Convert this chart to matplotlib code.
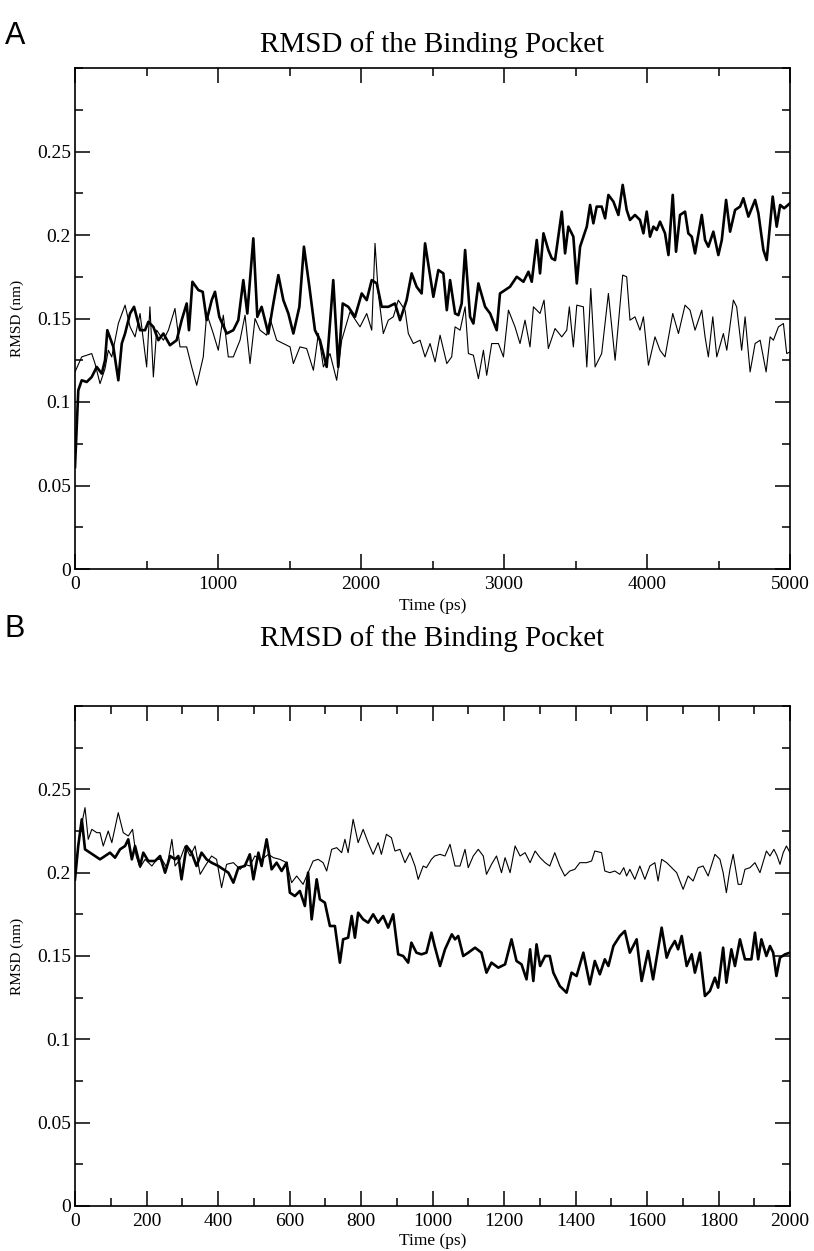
import matplotlib
matplotlib.use("Agg")
import matplotlib.pyplot as plt
from matplotlib.ticker import MultipleLocator, FuncFormatter

# ---------------- Data ----------------
# Panel A (0-5000 ps)
tA_thick = [0,23,47,82,117,152,187,210,226,268,303,327,350,385,413,455,490,513,548,583,
            618,664,711,746,781,797,821,863,893,921,956,979,1009,1061,1107,1142,1177,1205,1247,1275,
            1305,1352,1387,1422,1457,1492,1527,1569,1601,1639,1678,1713,1760,1806,1841,1872,1911,1958,2005,2040,
            2075,2110,2145,2191,2238,2273,2319,2354,2389,2424,
            2448,2506,2541,2576,2600,2623,2658,2681,2704,2728,2763,2786,2821,2868,2903,2949,2972,3007,3042,3089,
            3136,3171,3194,3229,3252,3276,3310,3334,3357,3404,3427,3450,3485,3509,3532,3579,3602,3625,3648,3683,
            3707,3730,3765,3800,3830,3858,3881,3916,3951,3975,3998,4021,4045,4068,4091,4126,4150,4180,4203,4231,
            4266,4289,4313,4336,4383,4406,4429,4464,4499,4523,4553,4581,4616,4651,4674,4709,4756,4779,4814,4837,
            4879,4907,4931,4959,5000]
vA_thick = [0.061,0.107,0.113,0.112,0.115,0.121,0.117,0.125,0.143,0.133,0.113,0.135,0.141,0.153,0.157,0.143,0.143,0.148,0.145,0.137,
            0.141,0.134,0.137,0.149,0.159,0.143,0.172,0.167,0.166,0.149,0.161,0.166,0.151,0.141,0.143,0.149,0.173,0.153,0.198,0.151,
            0.157,0.141,0.159,0.176,0.161,0.153,0.141,0.157,0.193,0.169,0.143,0.137,0.121,0.173,0.121,0.159,0.157,0.151,0.165,0.161,
            0.173,0.171,0.157,0.157,0.159,0.149,0.161,0.177,0.169,0.165,
            0.195,0.163,0.179,0.177,0.155,0.173,0.153,0.152,0.159,0.191,0.151,0.147,0.171,0.157,0.153,0.143,0.165,0.167,0.169,0.175,
            0.172,0.178,0.172,0.197,0.177,0.201,0.191,0.186,0.185,0.214,0.189,0.205,0.199,0.171,0.193,0.205,0.218,0.207,0.217,0.217,
            0.210,0.224,0.220,0.212,0.230,0.215,0.209,0.212,0.209,0.201,0.214,0.199,0.205,0.203,0.208,0.201,0.188,0.224,0.190,0.212,
            0.214,0.201,0.199,0.189,0.212,0.197,0.193,0.202,0.188,0.197,0.221,0.202,0.215,0.217,0.222,0.211,0.221,0.213,0.191,0.185,
            0.223,0.205,0.218,0.216,0.219]

tA_thin = [0,47,82,117,140,175,210,233,257,303,350,385,420,455,501,524,548,571,618,653,
           699,734,781,816,851,897,921,967,1002,1037,1072,1107,1154,1189,1224,1259,1294,1340,1364,1410,
           1457,1504,1527,1573,1620,1667,1702,1737,1783,1830,1865,1923,1946,1993,2040,2075,2098,2121,2156,2191,
           2226,2261,2308,2331,2366,2413,
           2448,2483,2518,2553,2600,2634,2658,2693,2728,2751,2786,2821,2856,2879,2914,2961,2996,3031,3077,3112,
           3147,3182,3206,3252,3280,3310,3357,3404,3439,3457,3485,3509,3555,3579,3607,3637,3683,3730,3777,3830,
           3858,3881,3916,3951,3975,4010,4056,4091,4126,4180,4220,4266,4301,4336,4383,4406,4429,4460,4488,4534,
           4558,4604,4627,4662,4686,4721,4756,4791,4833,4861,4884,4919,4954,4977,5000]
vA_thin = [0.118,0.127,0.128,0.129,0.123,0.111,0.120,0.131,0.127,0.147,0.158,0.145,0.139,0.153,0.121,0.157,0.115,0.143,0.137,0.143,
           0.156,0.133,0.133,0.121,0.110,0.127,0.153,0.141,0.131,0.152,0.127,0.127,0.137,0.152,0.123,0.150,0.143,0.140,0.150,0.137,
           0.135,0.133,0.123,0.133,0.132,0.119,0.141,0.121,0.129,0.113,0.137,0.154,0.151,0.145,0.153,0.143,0.195,0.165,0.141,0.149,
           0.151,0.161,0.155,0.141,0.135,0.137,
           0.127,0.135,0.124,0.140,0.123,0.127,0.145,0.143,0.157,0.129,0.128,0.114,0.131,0.116,0.135,0.135,0.127,0.155,0.145,0.135,
           0.149,0.133,0.157,0.153,0.161,0.132,0.144,0.139,0.143,0.157,0.133,0.158,0.157,0.121,0.168,0.121,0.129,0.165,0.125,0.176,
           0.175,0.149,0.151,0.143,0.151,0.122,0.139,0.131,0.127,0.153,0.141,0.158,0.155,0.143,0.155,0.139,0.127,0.151,0.127,0.141,
           0.131,0.161,0.157,0.131,0.151,0.118,0.135,0.137,0.118,0.139,0.137,0.145,0.147,0.129,0.130]

# Panel B (0-2000 ps)
tB_thick = [0,9,19,28,42,56,70,84,98,112,126,140,149,159,168,182,191,205,224,238,
            252,266,280,289,298,312,326,340,354,368,382,401,415,429,443,457,475,489,499,513,
            522,536,550,564,578,592,601,615,629,643,652,662,676,685,699,713,727,741,750,764,
            774,783,792,806,820,834,848,862,876,890,904,918,932,941,955,969,983,997,1006,
            1021,1035,1054,1063,1072,1086,1100,1119,1137,1151,1165,1184,1203,1221,1235,1249,1263,1273,1282,1291,
            1301,1315,1328,1338,1356,1375,1389,1403,1422,1440,1454,1468,1482,1492,1506,1524,1538,1552,1571,1585,
            1603,1617,1641,1655,1664,1678,1687,1697,1711,1725,1734,1748,1762,1776,1790,1799,1813,1822,1836,1846,
            1860,1874,1892,1902,1911,1920,1934,1944,1953,1962,1972,1986,2000]
vB_thick = [0.196,0.216,0.232,0.214,0.212,0.210,0.208,0.210,0.212,0.209,0.214,0.216,0.220,0.208,0.216,0.204,0.212,0.207,0.207,0.210,
            0.200,0.210,0.208,0.210,0.196,0.216,0.212,0.204,0.212,0.208,0.206,0.204,0.202,0.200,0.194,0.203,0.204,0.211,0.196,0.212,
            0.204,0.220,0.202,0.206,0.201,0.206,0.188,0.186,0.189,0.180,0.200,0.172,0.196,0.184,0.182,0.168,0.168,0.146,0.160,0.161,
            0.174,0.161,0.176,0.172,0.170,0.175,0.170,0.174,0.167,0.175,0.151,0.150,0.146,0.158,0.152,0.151,0.152,0.164,0.156,
            0.144,0.154,0.163,0.160,0.162,0.150,0.152,0.155,0.152,0.140,0.146,0.143,0.145,0.160,0.147,0.145,0.136,0.154,0.135,0.157,
            0.144,0.150,0.150,0.140,0.132,0.128,0.140,0.138,0.152,0.133,0.147,0.139,0.148,0.144,0.156,0.162,0.165,0.152,0.160,0.135,
            0.153,0.136,0.167,0.149,0.154,0.159,0.154,0.162,0.144,0.151,0.140,0.152,0.126,0.129,0.137,0.131,0.155,0.134,0.154,0.144,
            0.160,0.148,0.148,0.164,0.148,0.160,0.150,0.156,0.152,0.138,0.149,0.151,0.152]

tB_thin = [0,14,28,37,47,61,70,79,93,103,121,135,149,161,171,182,196,215,229,243,
           257,271,280,294,308,322,336,350,364,382,396,410,424,443,462,475,489,503,522,541,
           555,573,592,606,620,638,652,666,680,694,704,718,732,746,755,764,778,792,806,820,
           834,848,857,871,885,895,909,923,937,951,960,974,983,997,1006,
           1021,1035,1049,1063,1077,1091,1100,1114,1128,1142,1151,1165,1179,1193,1203,1217,1231,1245,1259,1273,
           1287,1301,1315,1328,1342,1356,1370,1384,1398,1412,1431,1445,1454,1473,1482,1496,1510,1524,1535,1543,
           1552,1566,1580,1594,1608,1622,1631,1641,1655,1669,1683,1701,1715,1729,1743,1757,1771,1790,1804,1813,
           1822,1832,1841,1855,1864,1874,1888,1902,1916,1934,1944,1955,1964,1972,1981,1990,2000]
vB_thin = [0.200,0.224,0.239,0.220,0.226,0.224,0.224,0.216,0.225,0.218,0.236,0.224,0.222,0.226,0.210,0.203,0.208,0.204,0.208,0.208,
           0.203,0.220,0.204,0.208,0.216,0.210,0.216,0.199,0.204,0.210,0.208,0.191,0.205,0.206,0.202,0.205,0.204,0.210,0.208,0.211,
           0.209,0.208,0.206,0.194,0.198,0.193,0.200,0.207,0.208,0.206,0.201,0.214,0.215,0.212,0.220,0.212,0.232,0.218,0.226,0.218,
           0.211,0.218,0.211,0.223,0.221,0.213,0.214,0.206,0.212,0.204,0.196,0.204,0.203,0.208,0.210,
           0.211,0.210,0.217,0.204,0.204,0.214,0.203,0.210,0.214,0.210,0.199,0.205,0.210,0.200,0.209,0.200,0.216,0.210,0.212,0.206,
           0.213,0.209,0.206,0.204,0.212,0.204,0.198,0.201,0.202,0.206,0.206,0.207,0.213,0.212,0.201,0.200,0.201,0.199,0.203,0.198,
           0.202,0.196,0.204,0.196,0.204,0.206,0.195,0.208,0.206,0.203,0.200,0.190,0.198,0.195,0.203,0.204,0.198,0.211,0.208,0.200,
           0.188,0.202,0.211,0.193,0.193,0.202,0.203,0.206,0.200,0.213,0.210,0.214,0.210,0.205,0.212,0.216,0.212]

title_text = "RMSD of the Binding Pocket"
xlabel_text = "Time (ps)"
ylabel_text = "RMSD (nm)"
y_major = [0, 0.05, 0.1, 0.15, 0.2, 0.25]

# ---------------- Figure ----------------
W, H = 814, 1251
fig = plt.figure(figsize=(W / 100, H / 100), dpi=100)
serif = ["Liberation Serif", "DejaVu Serif"]
sans = ["Liberation Sans", "DejaVu Sans"]


def yfmt(v, pos):
    if abs(v) < 1e-9:
        return "0"
    return f"{v:.2f}".rstrip("0")


def make_panel(left, top, right, bottom, xmax, xmaj, xmin_step, t1, v1, t2, v2, letter, title_y, letter_y, xlabel_y):
    ax = fig.add_axes([left / W, 1 - bottom / H, (right - left) / W, (bottom - top) / H])
    ax.plot(t2, v2, color="black", lw=0.8, zorder=2)
    ax.plot(t1, v1, color="black", lw=1.9, zorder=3)
    ax.set_xlim(0, xmax)
    ax.set_ylim(0, 0.3)
    ax.xaxis.set_major_locator(MultipleLocator(xmaj))
    ax.xaxis.set_minor_locator(MultipleLocator(xmin_step))
    ax.set_yticks(y_major)
    ax.yaxis.set_minor_locator(MultipleLocator(0.025))
    ax.yaxis.set_major_formatter(FuncFormatter(yfmt))
    ax.xaxis.set_major_formatter(FuncFormatter(lambda v, p: f"{int(round(v))}"))
    ax.tick_params(which="both", direction="in", top=True, right=True, width=1.1, color="black")
    ax.tick_params(which="major", length=10.5)
    ax.tick_params(which="minor", length=5.5)
    ax.tick_params(axis="x", which="major", pad=5)
    ax.tick_params(axis="y", which="major", pad=3)
    for lab in ax.get_xticklabels() + ax.get_yticklabels():
        lab.set_fontfamily(serif)
        lab.set_fontsize(14)
    for s in ax.spines.values():
        s.set_linewidth(1.2)
    fig.text((left + right) / 2 / W, 1 - title_y / H, title_text, ha="center", va="center",
             fontsize=21, family=serif)
    fig.text(15 / W, 1 - letter_y / H, letter, ha="center", va="center", fontsize=22, family=sans)
    fig.text(433 / W, 1 - xlabel_y / H, xlabel_text, ha="center", va="center", fontsize=12.5, family=serif)
    fig.text(17 / W, 1 - (top + bottom) / 2 / H, ylabel_text, ha="center", va="center",
             rotation=90, fontsize=11, family=serif)
    return ax


make_panel(75, 68, 790, 569, 5000, 1000, 500, tA_thick, vA_thick, tA_thin, vA_thin, "A", 45, 36, 606)
make_panel(75, 706, 790, 1206, 2000, 200, 100, tB_thick, vB_thick, tB_thin, vB_thin, "B", 639, 629, 1241)

fig.savefig("out.png", dpi=100)
